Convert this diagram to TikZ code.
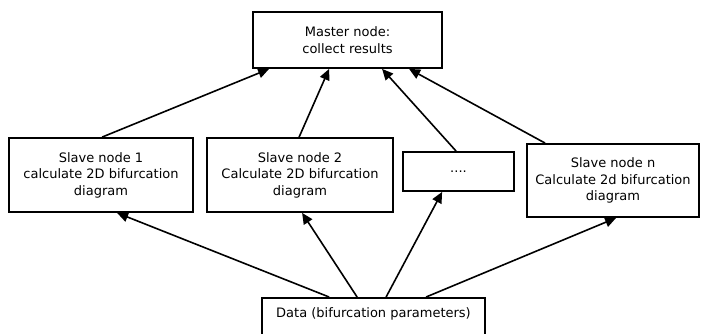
\documentclass[tikz,border=0pt]{standalone}
\usepackage{fontspec}
\setmainfont{DejaVu Sans}
\usetikzlibrary{arrows.meta}
\begin{document}
\begin{tikzpicture}[x=1pt,y=-1pt,
  box/.style={draw=black, line width=1.8pt, fill=white, inner sep=0pt, align=center,
    font=\fontsize{13}{16.5}\selectfont},
  conn/.style={line width=1.6pt, -{Triangle[length=11pt,width=10pt]}}]
\useasboundingbox (0,0) rectangle (701,333);
\node[box, minimum width=189pt, minimum height=56pt] (master) at (347.5,40) {Master node:\\collect results};
\node[box, minimum width=184pt, minimum height=74pt] (s1) at (101,175) {Slave node 1\\calculate 2D bifurcation\\diagram};
\node[box, minimum width=186pt, minimum height=74pt] (s2) at (300,175) {Slave node 2\\Calculate 2D bifurcation\\diagram};
\node[box, minimum width=111pt, minimum height=39pt] (dots) at (458.5,171.5) {....};
\node[box, minimum width=172pt, minimum height=73pt] (sn) at (613,180.5) {Slave node n\\Calculate 2d bifurcation\\diagram};
\node[box, minimum width=223pt, anchor=north, text height=19.5pt, text depth=40pt] (data) at (373.5,297) {Data (bifurcation parameters)};
\draw[conn] ([xshift=94pt]s1.north west) -- ([xshift=17pt]master.south west);
\draw[conn] ([xshift=93pt]s2.north west) -- ([xshift=77pt]master.south west);
\draw[conn] ([xshift=54pt]dots.north west) -- ([xshift=130pt]master.south west);
\draw[conn] ([xshift=19pt]sn.north west) -- ([xshift=157pt]master.south west);
\draw[conn] ([xshift=68pt]data.north west) -- ([xshift=109pt]s1.south west);
\draw[conn] ([xshift=96pt]data.north west) -- ([xshift=96pt]s2.south west);
\draw[conn] ([xshift=125pt]data.north west) -- ([xshift=40pt]dots.south west);
\draw[conn] ([xshift=165pt]data.north west) -- ([xshift=90pt]sn.south west);
\end{tikzpicture}
\end{document}
